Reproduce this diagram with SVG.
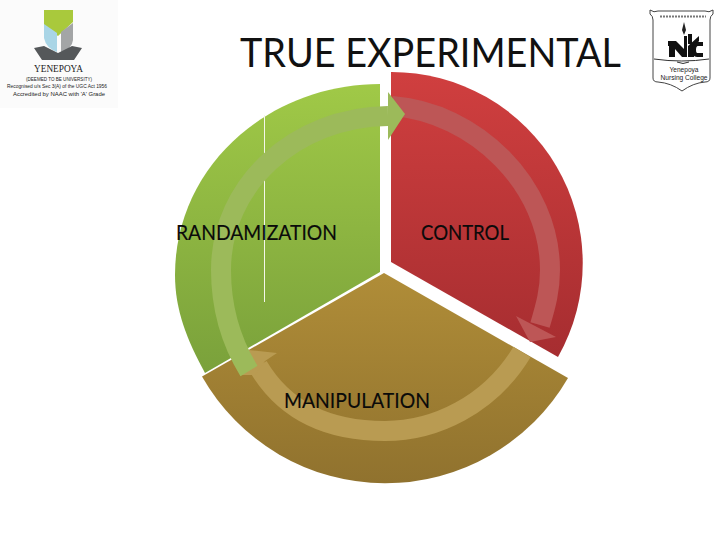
<svg xmlns="http://www.w3.org/2000/svg" width="720" height="540" viewBox="0 0 720 540">
<defs>
<linearGradient id="gG" x1="0" y1="0" x2="0" y2="1"><stop offset="0" stop-color="#a0c947"/><stop offset="1" stop-color="#7aa13b"/></linearGradient>
<linearGradient id="gR" x1="0" y1="0" x2="0" y2="1"><stop offset="0" stop-color="#d03f3f"/><stop offset="1" stop-color="#a62d30"/></linearGradient>
<linearGradient id="gB" x1="0" y1="0" x2="0" y2="1"><stop offset="0" stop-color="#b08d38"/><stop offset="1" stop-color="#90722e"/></linearGradient>
<style>
.lab{font-family:Lato,"Open Sans","Liberation Sans",sans-serif;font-size:21px;fill:#0a0a0a;stroke:#0a0a0a;stroke-width:.15px}
.band{fill:none;stroke-width:20}
.lg{font-family:"Liberation Sans",sans-serif;fill:#222}
</style>
</defs>
<rect width="720" height="540" fill="#fff"/>
<text x="240" y="67" textLength="381" lengthAdjust="spacingAndGlyphs" font-family="Lato, Open Sans, Liberation Sans, sans-serif" font-size="40" fill="#111">TRUE EXPERIMENTAL</text>

<g id="logo-yenepoya">
<rect x="0" y="0" width="118" height="108" fill="#fbfbfb"/>
<path d="M44 10H73V22L58 36L44 26Z" fill="#a9c93c"/>
<path d="M44 24L57 33V52Q46 48 44 38Z" fill="#a9d5e6"/>
<path d="M61 32L73 23V40Q72 49 61 52Z" fill="#a3a5a6"/>
<path d="M34 48L44 46L58 53L72 46L82 48L74 60H42Z" fill="#55585a"/>
<text x="58.500" y="72" text-anchor="middle" font-family="Liberation Serif, serif" font-size="10" fill="#222" textLength="49" lengthAdjust="spacingAndGlyphs">YENEPOYA</text>
<text class="lg" x="59" y="81" text-anchor="middle" font-size="5.500" textLength="66" lengthAdjust="spacingAndGlyphs">(DEEMED TO BE UNIVERSITY)</text>
<text class="lg" x="57" y="88" text-anchor="middle" font-size="5.500" textLength="100" lengthAdjust="spacingAndGlyphs">Recognised u/s Sec 3(A) of the UGC Act 1956</text>
<text class="lg" x="59" y="96" text-anchor="middle" font-size="5.500" textLength="92" lengthAdjust="spacingAndGlyphs">Accredited by NAAC with 'A' Grade</text>
</g>

<g id="logo-nursing">
<path d="M650 10Q654 13 658 11H705Q709 13 713 10V14Q710 16 710 20V78Q710 82 705 82Q693 83 682 91Q671 83 658 82Q653 82 653 78V20Q653 16 650 14Z" fill="#fff" stroke="#444" stroke-width="1"/>
<path d="M654 59Q682 63 709 59" fill="none" stroke="#333" stroke-width="1"/>
<path d="M660 16.500H706" stroke="#777" stroke-width="2" stroke-dasharray="2 1"/>
<path d="M684 22L686 30L684 35L682 30Z" fill="#222"/>
<path d="M668 41H676L684 49V36H687V57H682L675 49V57H669V46H668Z" fill="#111"/>
<path d="M688 34H692V44H688ZM688 46L699 36V41L694 48V57H688Z" fill="#111"/>
<path d="M703 44H697Q694 45 694 50Q694 55 697 55H703" fill="none" stroke="#111" stroke-width="4"/>
<path d="M677 62Q683 65 689 62" fill="none" stroke="#333" stroke-width="1"/>
<text class="lg" x="684" y="72" text-anchor="middle" font-size="7" textLength="29" lengthAdjust="spacingAndGlyphs">Yenepoya</text>
<text class="lg" x="684" y="80" text-anchor="middle" font-size="7" textLength="47" lengthAdjust="spacingAndGlyphs">Nursing College</text>
</g>

<g id="node-manipulation">
<path d="M384 273L568 378A211 211 0 0 1 202 376.500Z" fill="url(#gB)"/>
</g>
<g id="node-control">
<path d="M391 262V72A191 191 0 0 1 558 357Z" fill="url(#gR)"/>
</g>
<g id="node-randamization">
<path d="M380 272L205 373C187 340 175 310 175 275C175 165 270 84 380 84Z" fill="url(#gG)"/>
<path d="M264.500 115V302" stroke="#f4f6ea" stroke-width="1"/>
</g>

<g id="connectors">
<path class="band" d="M522 352C490 405 435 431 385 431C330 431 285 412 258 366" stroke="#b99b52"/>
<path d="M248 350L277 353L265 361L255 375L240 375Z" fill="#b99b52"/>
<path class="band" d="M392 106C475 112 550 185 550 270C550 290 546 305 540 325" stroke="#bd5656"/>
<path d="M516 316L556 337L530 342Z" fill="#bd5656"/>
<path class="band" d="M249 371C230 340 221 305 221 270C221 185 295 117 388 116" stroke="#9cba5a"/>
<path d="M388 92L405 114L388 140Z" fill="#9cba5a"/>
</g>
<text class="lab" x="176" y="240" textLength="161" lengthAdjust="spacingAndGlyphs">RANDAMIZATION</text>
<text class="lab" x="421" y="240" textLength="88" lengthAdjust="spacingAndGlyphs">CONTROL</text>
<text class="lab" x="284" y="408" textLength="146" lengthAdjust="spacingAndGlyphs">MANIPULATION</text>
</svg>
